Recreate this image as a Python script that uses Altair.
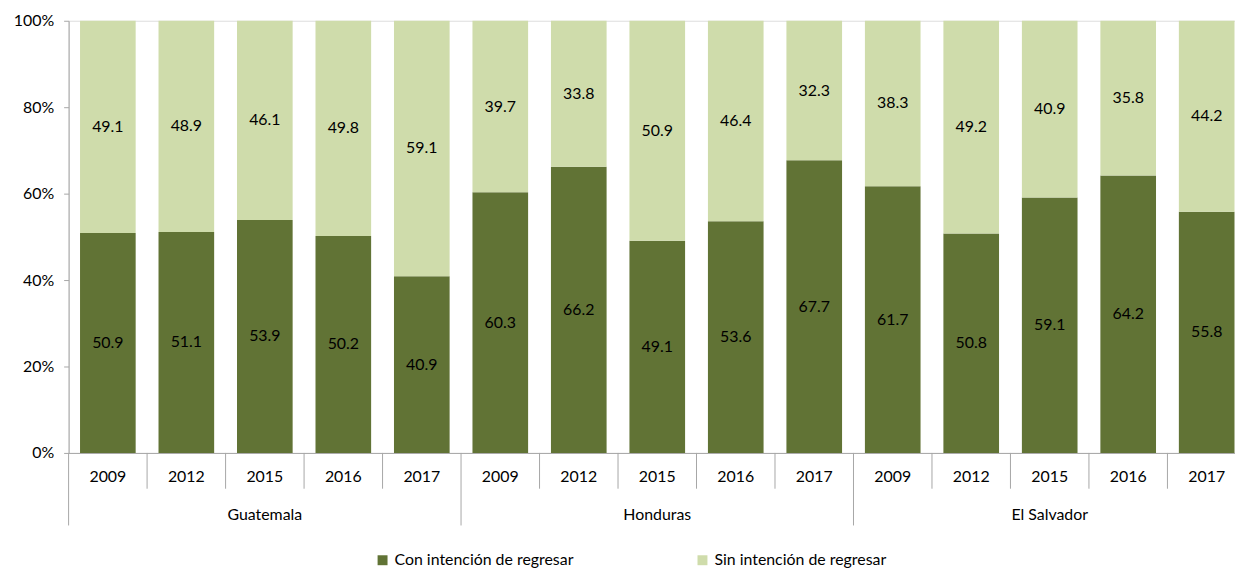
import altair as alt
import pandas as pd

countries = ["Guatemala", "Honduras", "El Salvador"]
years = ["2009", "2012", "2015", "2016", "2017"]
con = [50.9, 51.1, 53.9, 50.2, 40.9, 60.3, 66.2, 49.1, 53.6, 67.7, 61.7, 50.8, 59.1, 64.2, 55.8]
sin = [49.1, 48.9, 46.1, 49.8, 59.1, 39.7, 33.8, 50.9, 46.4, 32.3, 38.3, 49.2, 40.9, 35.8, 44.2]
series = ["Con intención de regresar", "Sin intención de regresar"]
colors = ["#617335", "#CFDCAB"]
y_ticks = [0, 20, 40, 60, 80, 100]

# layout
W, H = 1174, 435
STEP = 79
XMAX = W / STEP
PAD = (1 - 56 / STEP) / 2
GRAY = "#A6A6A6"
FONT = "Lato"
FS = 16

rows = []
for i in range(len(con)):
    c, y = countries[i // 5], years[i % 5]
    rows.append(dict(idx=i, country=c, year=y, serie=series[0], value=con[i],
                     lo=0.0, hi=con[i]))
    rows.append(dict(idx=i, country=c, year=y, serie=series[1], value=sin[i],
                     lo=con[i], hi=con[i] + sin[i]))
df = pd.DataFrame(rows)

cat_df = pd.DataFrame({"idx": list(range(len(con))),
                       "year": [years[i % 5] for i in range(len(con))]})
sep_df = pd.DataFrame({"k": list(range(len(con) + 1))})
sep_df["major"] = sep_df["k"] % 5 == 0
grp_df = pd.DataFrame({"g": list(range(len(countries))), "country": countries})

xs = alt.Scale(domain=[0, XMAX], nice=False, zero=False)
ys = alt.Scale(domain=[0, 100], nice=False, zero=True)

bars = alt.Chart(df).transform_calculate(
    x0=f"datum.idx + {PAD}", x1=f"datum.idx + 1 - {PAD}"
).mark_bar().encode(
    x=alt.X("x0:Q", scale=xs,
            axis=alt.Axis(labels=False, ticks=False, grid=False, title=None,
                          domain=True, domainColor=GRAY, domainWidth=1)),
    x2="x1:Q",
    y=alt.Y("lo:Q", scale=ys,
            axis=alt.Axis(values=y_ticks, labelExpr="datum.value + '%'", title=None,
                          grid=False, domainColor=GRAY, tickColor=GRAY, tickSize=5,
                          labelPadding=10, labelFont=FONT, labelFontSize=FS,
                          labelColor="black")),
    y2="hi:Q",
    color=alt.Color("serie:N", scale=alt.Scale(domain=series, range=colors),
                    legend=alt.Legend(orient="none", legendX=308, legendY=535,
                                      direction="horizontal", title=None,
                                      symbolType="square", symbolSize=100,
                                      symbolStrokeWidth=0, labelFont=FONT,
                                      labelFontSize=FS, labelColor="black",
                                      labelOffset=4, columnPadding=121,
                                      labelLimit=400)),
)

labels = alt.Chart(df).transform_calculate(
    xc="datum.idx + 0.5", mid="(datum.lo + datum.hi) / 2"
).mark_text(font=FONT, fontSize=FS, color="black", baseline="middle").encode(
    x=alt.X("xc:Q", scale=xs),
    y=alt.Y("mid:Q", scale=ys),
    text=alt.Text("value:Q", format=".1f"),
)

minor = alt.Chart(sep_df).transform_filter("!datum.major").mark_rule(
    color=GRAY, strokeWidth=1).encode(
    x=alt.X("k:Q", scale=xs), y=alt.value(H), y2=alt.value(H + 36))

major = alt.Chart(sep_df).transform_filter("datum.major").mark_rule(
    color=GRAY, strokeWidth=1).encode(
    x=alt.X("k:Q", scale=xs), y=alt.value(H), y2=alt.value(H + 73))

year_text = alt.Chart(cat_df).transform_calculate(
    xc="datum.idx + 0.5").mark_text(
    font=FONT, fontSize=FS, color="black", baseline="middle").encode(
    x=alt.X("xc:Q", scale=xs), y=alt.value(H + 24), text="year:N")

country_text = alt.Chart(grp_df).transform_calculate(
    xc="datum.g * 5 + 2.5").mark_text(
    font=FONT, fontSize=FS, color="black", baseline="middle").encode(
    x=alt.X("xc:Q", scale=xs), y=alt.value(H + 62), text="country:N")

chart = alt.layer(bars, labels, minor, major, year_text, country_text).properties(
    width=W, height=H,
    padding={"left": 61, "top": 11, "right": 0, "bottom": 118},
    autosize=alt.AutoSizeParams(type="none"),
).configure_view(stroke=None).configure(background="white")

chart.save("out.html", embed_options={"renderer": "svg", "actions": False})
